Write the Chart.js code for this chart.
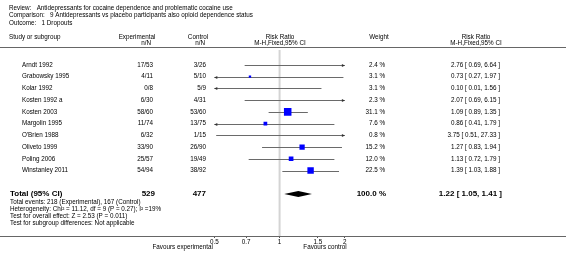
<!DOCTYPE html>
<html>
<head>
<meta charset="utf-8">
<script src="https://cdn.jsdelivr.net/npm/chart.js@4/dist/chart.umd.min.js"></script>
<style>
  html, body { margin: 0; padding: 0; background: #fff; }
</style>
</head>
<body>
<canvas id="forest" width="566" height="253"></canvas>
<script>
// study level data
const studies = ["Arndt 1992", "Grabowsky 1995", "Kolar 1992", "Kosten 1992 a", "Kosten 2003",
  "Margolin 1995", "O'Brien 1988", "Oliveto 1999", "Poling 2006", "Winstanley 2011"];
const expEvents = [17, 4, 0, 6, 58, 11, 6, 33, 25, 54];
const expTotal = [53, 11, 8, 30, 60, 74, 32, 90, 57, 94];
const ctlEvents = [3, 5, 5, 4, 53, 13, 1, 26, 19, 38];
const ctlTotal = [26, 10, 9, 31, 60, 75, 15, 90, 49, 92];
const riskRatio = [2.76, 0.73, 0.10, 2.07, 1.09, 0.86, 3.75, 1.27, 1.13, 1.39];
const ciLow = [0.69, 0.27, 0.01, 0.69, 0.89, 0.41, 0.51, 0.83, 0.72, 1.03];
const ciHigh = [6.64, 1.97, 1.56, 6.15, 1.35, 1.79, 27.33, 1.94, 1.79, 1.88];
const weights = [2.4, 3.1, 3.1, 2.3, 31.1, 7.6, 0.8, 15.2, 12.0, 22.5];

// pooled result
const totalExp = 529;
const totalCtl = 477;
const pooled = [1.22, 1.05, 1.41]; // estimate, low, high
const totalWeight = 100.0;
const footnotes = [
  "Total events: 218 (Experimental), 167 (Control)",
  "Heterogeneity: Chi\u00b2 = 11.12, df = 9 (P = 0.27); I\u00b2 =19%",
  "Test for overall effect: Z = 2.53 (P = 0.011)",
  "Test for subgroup differences: Not applicable"
];
const axisTicks = [0.5, 0.7, 1, 1.5, 2];
const plotRange = [0.5, 2];

const headerLines = [
  "Review:   Antidepressants for cocaine dependence and problematic cocaine use",
  "Comparison:   9 Antidepressants vs placebo participants also opioid dependence status",
  "Outcome:   1 Dropouts"
];

const FONT = "'Liberation Sans', Arial, sans-serif";
const FS = 6.3;
const TOTAL_ROW = 11;

function txt(ctx, s, x, y, align, size, bold) {
  ctx.font = (bold ? "bold " : "") + size + "px " + FONT;
  ctx.textAlign = align;
  ctx.textBaseline = "middle";
  ctx.fillStyle = "#000";
  ctx.fillText(s, x, y);
}

const forestPlugin = {
  id: "forest",
  beforeDatasetsDraw(chart) {
    const ctx = chart.ctx;
    const xs = chart.scales.x, ys = chart.scales.y;
    const lo = xs.getPixelForValue(plotRange[0]);
    const hi = xs.getPixelForValue(plotRange[1]);
    ctx.save();
    // line of no effect
    ctx.strokeStyle = "#d4d4d4";
    ctx.lineWidth = 2;
    ctx.beginPath();
    ctx.moveTo(xs.getPixelForValue(1), 50);
    ctx.lineTo(xs.getPixelForValue(1), chart.chartArea.bottom);
    ctx.stroke();
    // header rule and full-width axis rule
    ctx.strokeStyle = "#666";
    ctx.lineWidth = 1;
    ctx.beginPath();
    ctx.moveTo(0, 47.5);
    ctx.lineTo(566, 47.5);
    ctx.moveTo(0, Math.round(chart.chartArea.bottom) + 0.5);
    ctx.lineTo(566, Math.round(chart.chartArea.bottom) + 0.5);
    ctx.stroke();
    // confidence intervals
    ctx.strokeStyle = "#6a6a6a";
    ctx.fillStyle = "#333";
    studies.forEach((s, i) => {
      const y = Math.round(ys.getPixelForValue(i)) + 0.5;
      const x1 = Math.max(lo, xs.getPixelForValue(Math.max(ciLow[i], 1e-6)));
      const x2 = Math.min(hi, xs.getPixelForValue(ciHigh[i]));
      ctx.beginPath();
      ctx.moveTo(x1, y);
      ctx.lineTo(x2, y);
      ctx.stroke();
      if (ciLow[i] < plotRange[0]) {
        ctx.beginPath();
        ctx.moveTo(lo, y);
        ctx.lineTo(lo + 3, y - 1.5);
        ctx.lineTo(lo + 3, y + 1.5);
        ctx.closePath();
        ctx.fill();
      }
      if (ciHigh[i] > plotRange[1]) {
        ctx.beginPath();
        ctx.moveTo(hi, y);
        ctx.lineTo(hi - 3, y - 1.5);
        ctx.lineTo(hi - 3, y + 1.5);
        ctx.closePath();
        ctx.fill();
      }
    });
    // pooled diamond
    const yt = ys.getPixelForValue(TOTAL_ROW);
    ctx.fillStyle = "#000";
    ctx.beginPath();
    ctx.moveTo(xs.getPixelForValue(pooled[1]), yt);
    ctx.lineTo(xs.getPixelForValue(pooled[0]), yt - 3);
    ctx.lineTo(xs.getPixelForValue(pooled[2]), yt);
    ctx.lineTo(xs.getPixelForValue(pooled[0]), yt + 3);
    ctx.closePath();
    ctx.fill();
    ctx.restore();
  },
  afterDraw(chart) {
    const ctx = chart.ctx;
    const ys = chart.scales.y;
    ctx.save();
    headerLines.forEach((h, k) => txt(ctx, h, 9, 8 + k * 7.5, "left", FS));
    txt(ctx, "Study or subgroup", 9, 37, "left", FS);
    txt(ctx, "Experimental", 137, 37, "center", FS);
    txt(ctx, "n/N", 151, 43, "right", FS);
    txt(ctx, "Control", 198, 37, "center", FS);
    txt(ctx, "n/N", 205, 43, "right", FS);
    txt(ctx, "Risk Ratio", 280, 37, "center", FS);
    txt(ctx, "M-H,Fixed,95% CI", 280, 43, "center", FS);
    txt(ctx, "Weight", 379, 37, "center", FS);
    txt(ctx, "Risk Ratio", 476, 37, "center", FS);
    txt(ctx, "M-H,Fixed,95% CI", 476, 43, "center", FS);
    studies.forEach((s, i) => {
      const y = ys.getPixelForValue(i);
      txt(ctx, s, 22, y, "left", FS);
      txt(ctx, expEvents[i] + "/" + expTotal[i], 153, y, "right", FS);
      txt(ctx, ctlEvents[i] + "/" + ctlTotal[i], 206, y, "right", FS);
      txt(ctx, weights[i].toFixed(1) + " %", 385, y, "right", FS);
      txt(ctx, riskRatio[i].toFixed(2) + " [ " + ciLow[i].toFixed(2) + ", " + ciHigh[i].toFixed(2) + " ]", 500, y, "right", FS);
    });
    const yt = ys.getPixelForValue(TOTAL_ROW);
    txt(ctx, "Total (95% CI)", 10, yt, "left", 8, true);
    txt(ctx, String(totalExp), 155, yt, "right", 8, true);
    txt(ctx, String(totalCtl), 206, yt, "right", 8, true);
    txt(ctx, totalWeight.toFixed(1) + " %", 386, yt, "right", 8, true);
    txt(ctx, pooled[0].toFixed(2) + " [ " + pooled[1].toFixed(2) + ", " + pooled[2].toFixed(2) + " ]", 502, yt, "right", 8, true);
    footnotes.forEach((f, k) => txt(ctx, f, 10, 202 + k * 7, "left", FS));
    txt(ctx, "Favours experimental", 213, 247, "right", FS);
    txt(ctx, "Favours control", 325, 247, "center", FS);
    ctx.restore();
  }
};

const squares = [];
const squareSizes = [];
riskRatio.forEach((r, i) => {
  if (r >= plotRange[0] && r <= plotRange[1]) {
    squares.push({ x: r, y: i });
    squareSizes.push(1.35 * Math.sqrt(weights[i]) / Math.SQRT2);
  }
});

new Chart(document.getElementById("forest"), {
  type: "scatter",
  data: {
    datasets: [{
      data: squares,
      pointStyle: "rect",
      pointRadius: squareSizes,
      backgroundColor: "#0000ff",
      borderWidth: 0
    }]
  },
  options: {
    responsive: false,
    animation: false,
    devicePixelRatio: 1,
    layout: { padding: 0 },
    plugins: { legend: { display: false }, tooltip: { enabled: false } },
    scales: {
      x: {
        type: "logarithmic",
        min: 0.0543,
        max: 19.8,
        bounds: "data",
        afterBuildTicks: (scale) => { scale.ticks = axisTicks.map(v => ({ value: v })); },
        afterFit: (scale) => { scale.height = 17; },
        ticks: {
          autoSkip: false,
          maxRotation: 0,
          padding: 0,
          color: "#000",
          font: { size: FS, family: FONT },
          callback: (v) => String(v)
        },
        grid: { drawOnChartArea: false, tickLength: 2, color: "#555" },
        border: { display: true, color: "#555", width: 1 }
      },
      y: {
        type: "linear",
        display: false,
        reverse: true,
        min: -61 / 12,
        max: (236 - 61) / 12
      }
    }
  },
  plugins: [forestPlugin]
});
</script>
</body>
</html>
